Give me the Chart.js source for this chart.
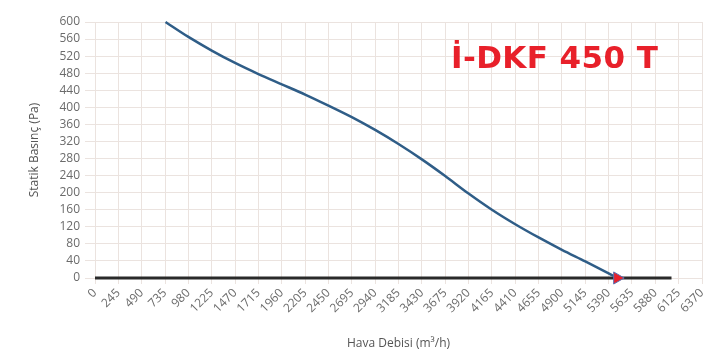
<!DOCTYPE html>
<html>
<head>
<meta charset="utf-8">
<script src="https://cdn.jsdelivr.net/npm/chart.js@4/dist/chart.umd.min.js"></script>
<style>
  html, body { margin: 0; padding: 0; background: #fff; }
  #wrap { position: relative; width: 726px; height: 359px; }
  #title {
    position: absolute; left: 451px; top: 39px;
    font-family: "DejaVu Sans", sans-serif; font-weight: bold;
    font-size: 31px; letter-spacing: 0.4px; color: #e8202a; white-space: nowrap;
  }
</style>
</head>
<body>
<div id="wrap">
  <canvas id="fanChart" width="726" height="359"></canvas>
  <div id="title">İ-DKF 450 T</div>
</div>
<script>
// fan curve: air flow (m3/h) vs static pressure (Pa)
const flowValues = [740, 980, 1225, 1470, 1715, 1960, 2205, 2450, 2695, 2940, 3185, 3430, 3675, 3920, 4165, 4410, 4655, 4900, 5145, 5390, 5480];
const pressureValues = [600, 565, 533, 504, 478, 454, 430, 404, 377, 347, 314, 278, 239, 198, 160, 126, 95, 66, 39, 11, 0];

// horizontal system line at 0 Pa and the operating point
const baseLineX = [0, 6050];
const baseLineY = [0, 0];
const operatingPoint = { x: 5480, y: 0 };

// axis ticks
const xTickStep = 245;
const xMax = 6370;
const yTickStep = 40;
const yMax = 600;

const toPoints = (xs, ys) => xs.map((x, i) => ({ x: x, y: ys[i] }));

const stepTicks = (max, step) => (axis) => {
  const ticks = [];
  for (let v = 0; v <= max; v += step) ticks.push({ value: v });
  axis.ticks = ticks;
};

const gridColor = "#ebe3df";
const textColor = "#6b6b6b";

const ctx = document.getElementById("fanChart");
new Chart(ctx, {
  type: "scatter",
  data: {
    datasets: [
      {
        label: "base",
        data: toPoints(baseLineX, baseLineY),
        showLine: true,
        borderColor: "#2a2a2a",
        borderWidth: 3,
        pointRadius: 0,
        clip: false,
        order: 2
      },
      {
        label: "curve",
        data: toPoints(flowValues, pressureValues),
        showLine: true,
        borderColor: "#2f5d87",
        borderWidth: 2.5,
        tension: 0.3,
        pointRadius: 0,
        clip: false,
        order: 1
      },
      {
        label: "point",
        data: [operatingPoint],
        pointStyle: "triangle",
        rotation: 90,
        pointRadius: 7,
        backgroundColor: "#e8202a",
        borderColor: "#5a6fb0",
        borderWidth: 1,
        clip: false,
        order: 0
      }
    ]
  },
  options: {
    responsive: false,
    animation: false,
    layout: { padding: { top: 22, right: 24, left: 27, bottom: 0 } },
    plugins: { legend: { display: false }, tooltip: { enabled: false } },
    scales: {
      x: {
        type: "linear",
        min: 0,
        max: xMax,
        afterBuildTicks: stepTicks(xMax, xTickStep),
        afterFit: (axis) => { axis.height = 81; },
        grid: { color: gridColor, tickLength: 6 },
        border: { display: false },
        ticks: {
          autoSkip: false,
          minRotation: 45,
          maxRotation: 45,
          color: textColor,
          font: { family: "Open Sans", size: 12 },
          padding: 2,
          callback: (v) => String(v)
        },
        title: {
          display: true,
          text: "Hava Debisi (m³/h)",
          color: "#555",
          font: { family: "Open Sans", size: 12 },
          padding: { top: 0, bottom: 8 }
        }
      },
      y: {
        min: 0,
        max: yMax,
        afterBuildTicks: stepTicks(yMax, yTickStep),
        afterFit: (axis) => { axis.width = 68; },
        grid: { color: gridColor, tickLength: 10 },
        border: { display: false },
        ticks: {
          autoSkip: false,
          color: textColor,
          font: { family: "Open Sans", size: 12 },
          padding: 5,
          callback: (v) => String(v)
        },
        title: {
          display: true,
          text: "Statik Basınç (Pa)",
          color: "#555",
          font: { family: "Open Sans", size: 12 },
          padding: { top: 0, bottom: 4 }
        }
      }
    }
  }
});
</script>
</body>
</html>
